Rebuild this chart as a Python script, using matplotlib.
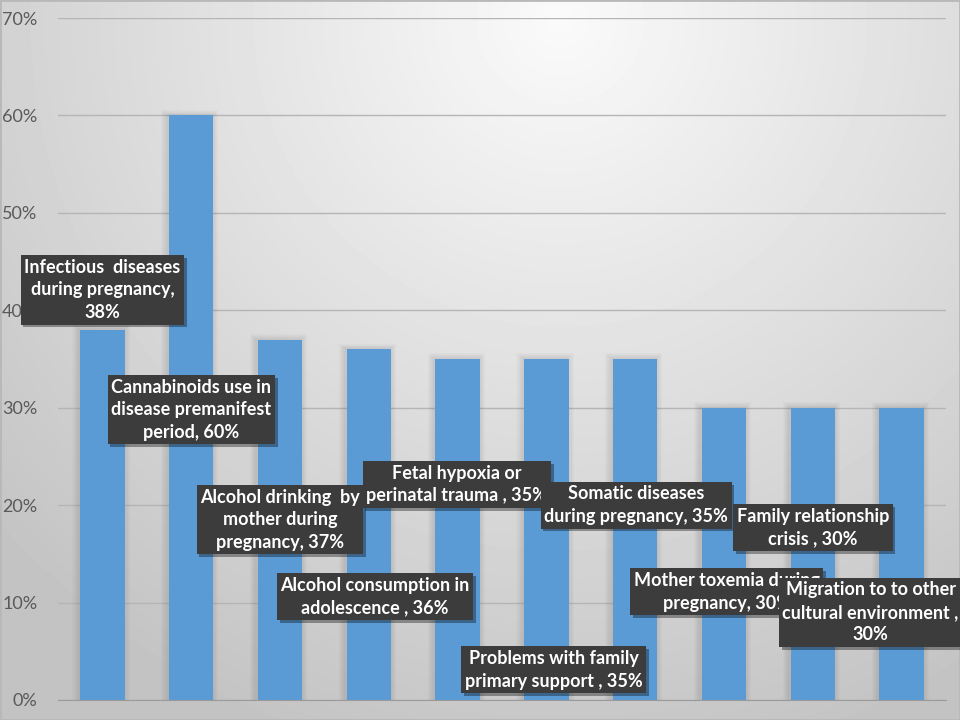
import numpy as np
import matplotlib
matplotlib.use("Agg")
import matplotlib.pyplot as plt
import matplotlib.patheffects as pe
from matplotlib.patches import Rectangle
from matplotlib.ticker import FuncFormatter

# --- data ---------------------------------------------------------------
categories = [
    "Infectious  diseases\nduring pregnancy",
    "Cannabinoids use in\ndisease premanifest\nperiod",
    "Alcohol drinking  by\nmother during\npregnancy",
    "Alcohol consumption in\nadolescence ",
    "Fetal hypoxia or\nperinatal trauma ",
    "Problems with family\nprimary support ",
    "Somatic diseases\nduring pregnancy",
    "Mother toxemia during\npregnancy",
    "Family relationship\ncrisis ",
    "Migration to to other\ncultural environment ",
]
values = [38, 60, 37, 36, 35, 35, 35, 30, 30, 30]
value_sep = ["\n", " ", " ", " ", " ", " ", " ", " ", " ", "\n"]

# label box centres (x offset from bar, y in %)
label_dx = [0.0, 0.0, 0.0, 0.07, -0.01, 0.08, 0.01, 0.03, 0.0, -0.35]
label_y = [42.1, 29.8, 18.5, 10.6, 22.1, 3.1, 20.0, 11.1, 17.7, 9.0]

BAR_COLOR = "#5B9BD5"
TEXT_GRAY = "#595959"

fig = plt.figure(figsize=(9.6, 7.2), dpi=100)

# radial grey background
bg = fig.add_axes([0, 0, 1, 1], zorder=-10)
yy, xx = np.mgrid[0:720, 0:960]
d = np.hypot(xx - 560, yy - 20)
shade = np.clip(250 - 50 * d / 700, 195, 252) / 255.0
bg.imshow(shade, cmap="gray", vmin=0, vmax=1, aspect="auto",
          extent=[0, 1, 0, 1], origin="upper")
bg.add_patch(Rectangle((0, 0), 1, 1, transform=bg.transAxes, fill=False,
                       edgecolor="#b8b8b8", linewidth=2))
bg.axis("off")

ax = fig.add_axes([58 / 960, 20 / 720, 888 / 960, 682 / 720])
ax.patch.set_alpha(0)

x = np.arange(len(values))

# soft shadow round the bars
for xi, v in zip(x, values):
    for k in range(1, 7):
        grow = 0.012 * k
        ax.add_patch(Rectangle((xi - 0.25 - grow - 0.015, 0), 0.5 + 2 * grow,
                               v + grow * 8, color="black", alpha=0.014,
                               linewidth=0, zorder=1))

ax.bar(x, values, width=0.5, color=BAR_COLOR, zorder=2)

ax.set_xlim(-0.5, len(values) - 0.5)
ax.set_ylim(0, 70)
ax.set_yticks(range(0, 71, 10))
ax.yaxis.set_major_formatter(FuncFormatter(lambda v, _: f"{v:.0f}%"))
ax.set_xticks([])
ax.tick_params(axis="y", length=0, pad=15, labelsize=13, labelcolor=TEXT_GRAY)
for lbl in ax.get_yticklabels():
    lbl.set_family(["Lato", "DejaVu Sans"])
ax.grid(axis="y", color="#b5b5b5", linewidth=1, zorder=0)
ax.set_axisbelow(True)
for s in ["top", "right", "left"]:
    ax.spines[s].set_visible(False)
ax.spines["bottom"].set_color("#9a9a9a")

# data labels in dark callout boxes
for i, (cat, v) in enumerate(zip(categories, values)):
    txt = f"{cat},{value_sep[i]}{v}%"
    t = ax.text(x[i] + label_dx[i], label_y[i], txt, ha="center", va="center",
                multialignment="center", color="white", fontsize=13,
                fontweight="bold", family=["Lato", "DejaVu Sans"],
                linespacing=1.4, zorder=5 + i, clip_on=False,
                bbox=dict(boxstyle="square,pad=0.2", facecolor="#3c3c3c",
                          edgecolor="none"))
    t.get_bbox_patch().set_path_effects([
        pe.SimplePatchShadow(offset=(2, -2), shadow_rgbFace="black", alpha=0.35),
        pe.Normal(),
    ])

fig.savefig("out.png", dpi=100)
